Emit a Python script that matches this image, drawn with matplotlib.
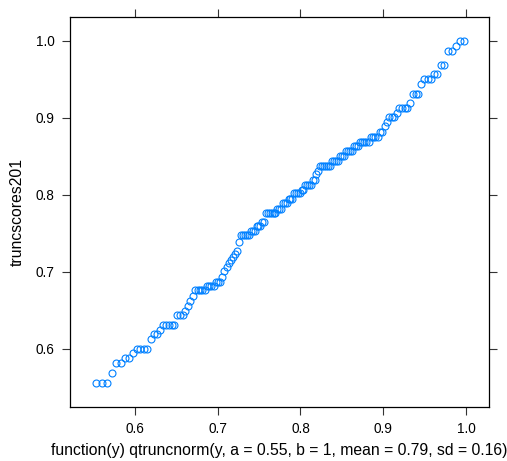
import matplotlib
matplotlib.use('Agg')
import matplotlib.pyplot as plt
import numpy as np
from statistics import NormalDist

# sorted sample values (level, count)
levels = [0.556, 0.569, 0.582, 0.588, 0.595, 0.600, 0.613, 0.619, 0.625, 0.631,
          0.644, 0.649, 0.656, 0.662, 0.669, 0.676, 0.682, 0.687, 0.694, 0.701,
          0.706, 0.711, 0.715, 0.719, 0.723, 0.727, 0.739, 0.748, 0.753, 0.760,
          0.765, 0.777, 0.782, 0.789, 0.795, 0.802, 0.807, 0.813, 0.819, 0.827,
          0.831, 0.838, 0.844, 0.850, 0.857, 0.863, 0.869, 0.875, 0.882, 0.889,
          0.895, 0.901, 0.906, 0.913, 0.919, 0.931, 0.944, 0.950, 0.957, 0.969,
          0.987, 0.994, 1.000]
counts = [3, 1, 2, 2, 1, 4, 1, 2, 1, 5,
          3, 1, 1, 1, 1, 5, 4, 3, 1, 1,
          1, 1, 1, 1, 1, 1, 1, 5, 3, 3,
          2, 6, 3, 3, 3, 4, 2, 4, 2, 1,
          1, 6, 4, 3, 4, 3, 5, 4, 2, 1,
          1, 3, 1, 4, 1, 3, 1, 3, 2, 2,
          2, 1, 2]

# truncated normal used for the theoretical quantiles
a, b, mean, sd = 0.55, 1.0, 0.79, 0.16

y = np.sort(np.repeat(levels, counts))
n = len(y)
nd = NormalDist(mean, sd)
fa, fb = nd.cdf(a), nd.cdf(b)
p = (np.arange(1, n + 1) - 0.5) / n
x = np.array([nd.inv_cdf(fa + pi * (fb - fa)) for pi in p])

plt.rcParams['font.family'] = ['Liberation Sans', 'DejaVu Sans']

fig = plt.figure(figsize=(5.07, 4.61), dpi=100)
ax = fig.add_axes([70 / 507, 1 - 407 / 461, 419 / 507, 390 / 461])

ax.plot(x, y, linestyle='none', marker='o', markersize=5, markerfacecolor='none',
        markeredgecolor='#0080ff', markeredgewidth=0.8)

ax.set_xlim(0.5215, 1.0278)
ax.set_ylim(0.5247, 1.031)
ax.set_xticks([0.6, 0.7, 0.8, 0.9, 1.0])
ax.set_xticklabels(['0.6', '0.7', '0.8', '0.9', '1.0'])
ax.set_yticks([0.6, 0.7, 0.8, 0.9, 1.0])
ax.set_yticklabels(['0.6', '0.7', '0.8', '0.9', '1.0'])
ax.tick_params(direction='out', length=5.5, width=0.8, color='#333333',
               top=True, right=True, labelsize=9.8, pad=5.5)
for s in ax.spines.values():
    s.set_linewidth(0.9)

ax.set_xlabel('function(y) qtruncnorm(y, a = 0.55, b = 1, mean = 0.79, sd = 0.16)',
              fontsize=11.3, labelpad=5)
ax.set_ylabel('truncscores201', fontsize=11.3, labelpad=8)

fig.savefig('out.png', dpi=100)
